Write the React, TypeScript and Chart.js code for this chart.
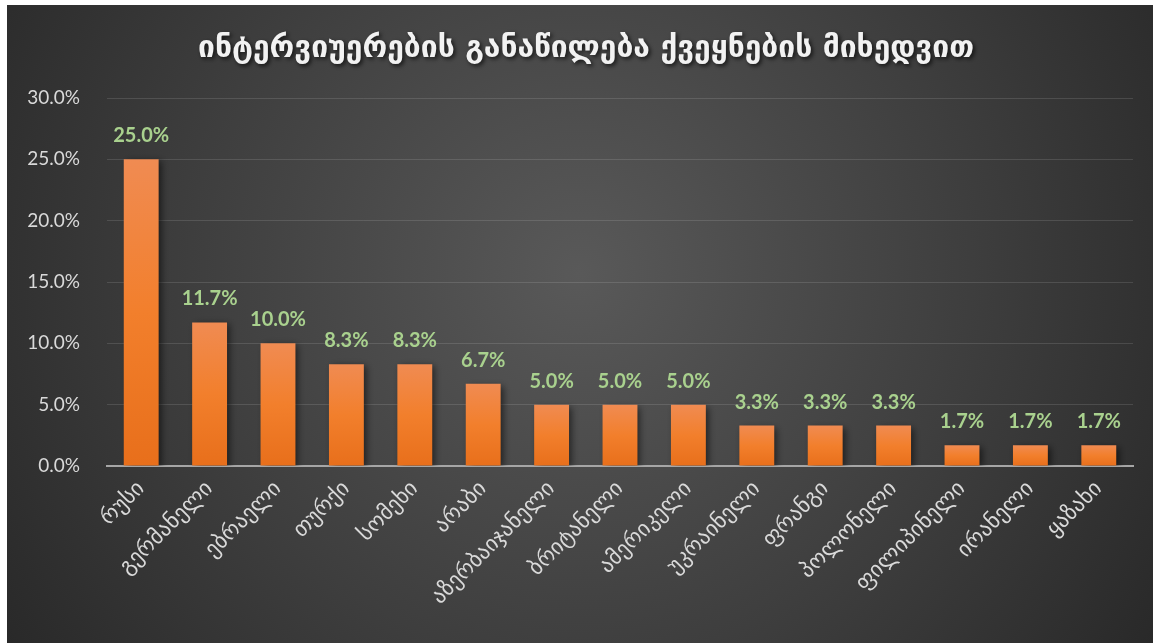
import React, { useEffect, useRef } from "react";
import { Chart, registerables } from "chart.js";

Chart.register(...registerables);

const TITLE = "ინტერვიუერების განაწილება ქვეყნების მიხედვით";

const categories = [
  "რუსი",
  "გერმანელი",
  "ებრაელი",
  "თურქი",
  "სომეხი",
  "არაბი",
  "აზერბაიჯანელი",
  "ბრიტანელი",
  "ამერიკელი",
  "უკრაინელი",
  "ფრანგი",
  "პოლონელი",
  "ფილიპინელი",
  "ირანელი",
  "ყაზახი",
];

const shares = [25.0, 11.7, 10.0, 8.3, 8.3, 6.7, 5.0, 5.0, 5.0, 3.3, 3.3, 3.3, 1.7, 1.7, 1.7];

const yTicks = [0, 5, 10, 15, 20, 25, 30];

const W = 1146;
const H = 638;

export default function App() {
  const ref = useRef<HTMLCanvasElement | null>(null);

  useEffect(() => {
    const canvas = ref.current;
    if (!canvas) return;

    const bgPlugin = {
      id: "bg",
      beforeDraw(chart: any) {
        const ctx = chart.ctx;
        ctx.save();
        const g = ctx.createRadialGradient(W * 0.5, H * 0.42, 0, W * 0.5, H * 0.42, W * 0.62);
        g.addColorStop(0, "#595959");
        g.addColorStop(0.55, "#3e3e3e");
        g.addColorStop(1, "#272727");
        ctx.fillStyle = g;
        ctx.fillRect(0, 0, W, H);
        // title
        ctx.font = "bold 30px 'DejaVu Sans', sans-serif";
        ctx.textAlign = "center";
        ctx.textBaseline = "middle";
        ctx.shadowColor = "rgba(0,0,0,0.7)";
        ctx.shadowBlur = 4;
        ctx.shadowOffsetX = 2;
        ctx.shadowOffsetY = 2;
        ctx.fillStyle = "#f2f2f2";
        ctx.fillText(TITLE, W / 2 + 6, 44);
        ctx.restore();
      },
      beforeDatasetsDraw(chart: any) {
        const ctx = chart.ctx;
        ctx.save();
        ctx.shadowColor = "rgba(0,0,0,0.55)";
        ctx.shadowBlur = 7;
        ctx.shadowOffsetX = 3;
        ctx.shadowOffsetY = 2;
      },
      afterDatasetsDraw(chart: any) {
        const ctx = chart.ctx;
        ctx.restore();
        ctx.save();
        ctx.font = "bold 20px Lato, 'Open Sans', sans-serif";
        ctx.textAlign = "center";
        ctx.textBaseline = "alphabetic";
        ctx.fillStyle = "#a9d18e";
        const meta = chart.getDatasetMeta(0);
        meta.data.forEach((bar: any, i: number) => {
          ctx.fillText(shares[i].toFixed(1) + "%", bar.x, bar.y - 17);
        });
        ctx.restore();
      },
    };

    const chart = new Chart(canvas, {
      type: "bar",
      data: {
        labels: categories,
        datasets: [
          {
            data: shares,
            backgroundColor: (c: any) => {
              const ch = c.chart;
              const ys = ch.scales && ch.scales.y;
              if (!ys || c.dataIndex === undefined) return "#f07a2a";
              const top = ys.getPixelForValue(shares[c.dataIndex]);
              const bottom = ys.getPixelForValue(0);
              if (!isFinite(top) || !isFinite(bottom) || bottom - top < 1) return "#f07a2a";
              const g = ch.ctx.createLinearGradient(0, top, 0, bottom);
              g.addColorStop(0, "#f08b52");
              g.addColorStop(0.5, "#f27f2c");
              g.addColorStop(1, "#e86f1b");
              return g;
            },
            borderWidth: 0,
            categoryPercentage: 1,
            barPercentage: 0.51,
          },
        ],
      },
      options: {
        animation: false,
        responsive: false,
        devicePixelRatio: 1,
        layout: { padding: { top: 93, right: 20, left: 0, bottom: 0 } },
        plugins: {
          legend: { display: false },
          title: { display: false },
          tooltip: { enabled: false },
        },
        scales: {
          x: {
            grid: { display: false },
            border: { display: true, color: "#a6a6a6", width: 2 },
            ticks: {
              color: "#d9d9d9",
              font: { family: "'DejaVu Sans', sans-serif", size: 22 },
              minRotation: 45,
              maxRotation: 45,
              autoSkip: false,
              padding: 2,
            },
            afterFit(scale: any) {
              scale.height = 177;
            },
          },
          y: {
            min: 0,
            max: 30,
            afterBuildTicks(scale: any) {
              scale.ticks = yTicks.map((v) => ({ value: v }));
            },
            grid: { color: "rgba(255,255,255,0.12)", lineWidth: 1, drawTicks: false },
            border: { display: false },
            ticks: {
              color: "#d9d9d9",
              font: { family: "Lato, 'Open Sans', sans-serif", size: 19 },
              padding: 27,
              callback: (v: any) => Number(v).toFixed(1) + "%",
            },
            afterFit(scale: any) {
              scale.width = 100;
            },
          },
        },
      },
      plugins: [bgPlugin],
    });

    return () => chart.destroy();
  }, []);

  return (
    <div style={{ position: "fixed", left: 7, top: 5, width: W, height: H }}>
      <canvas ref={ref} width={W} height={H} style={{ display: "block", width: W, height: H }} />
    </div>
  );
}
